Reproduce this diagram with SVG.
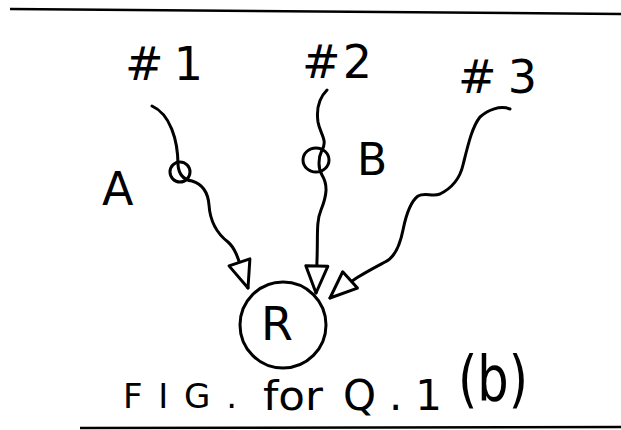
<svg xmlns="http://www.w3.org/2000/svg" width="621" height="430" viewBox="0 0 621 430">
<defs>
<style>
.ln{fill:none;stroke:#000;stroke-width:3;stroke-linecap:round;stroke-linejoin:round}
.rule{fill:none;stroke:#000;stroke-width:2.5}
.t{font-family:"DejaVu Sans","Liberation Sans",sans-serif;fill:#000}
.node{fill:none;stroke:#000;stroke-width:3}
</style>
<marker id="tri" markerUnits="userSpaceOnUse" viewBox="0 0 32 28" markerWidth="32" markerHeight="28" refX="30" refY="14" orient="auto">
<path d="M3,3 L30,14 L3,25 Z" fill="#fff" stroke="#000" stroke-width="3" stroke-linejoin="round"/>
</marker>
</defs>
<rect width="621" height="430" fill="#fff"/>
<path class="rule" d="M10,9 L621,14"/>
<path class="rule" d="M80,428 L621,427"/>

<g id="connectors">
<path class="ln" marker-end="url(#tri)" d="M152,106 C170,114 178,140 178,165 C179,176 185,180 192,181 C202,184 208,192 209,205 C210,220 215,232 228,242 C236,249 238,258 248,288"/>
<path class="ln" marker-end="url(#tri)" d="M327,90 C320,97 316,108 318,122 C320,134 328,140 322,150 C318,158 318,168 322,175 C328,185 327,195 321,210 C316,222 318,235 317,260 L316,293"/>
<path class="ln" marker-end="url(#tri)" d="M510,109 C500,105 488,110 480,117 C472,127 468,145 463,165 C460,178 452,188 440,194 C432,197 425,192 418,196 C410,202 406,215 403,230 C400,245 394,258 385,262 C370,270 350,280 330,298"/>
</g>

<g id="n1">
<text class="t" x="125" y="80" font-size="46" textLength="78" lengthAdjust="spacing">#1</text>
</g>
<g id="n2">
<text class="t" x="302" y="78" font-size="46" textLength="70" lengthAdjust="spacing">#2</text>
</g>
<g id="n3">
<text class="t" x="458" y="93" font-size="46" textLength="79" lengthAdjust="spacing">#3</text>
</g>
<g id="A">
<circle class="node" cx="180" cy="172" r="10"/>
<text class="t" x="102" y="205" font-size="46">A</text>
</g>
<g id="B">
<ellipse class="node" cx="316" cy="160" rx="13" ry="12"/>
<text class="t" x="357" y="175" font-size="44">B</text>
</g>
<g id="R">
<circle class="node" cx="283" cy="325" r="43"/>
<text class="t" x="261" y="340" font-size="46">R</text>
</g>
<g id="caption">
<text class="t" x="123" y="408" font-size="34" textLength="114" lengthAdjust="spacing">FIG.</text>
<text class="t" x="263" y="410" font-size="40" textLength="60" lengthAdjust="spacingAndGlyphs">for</text>
<text class="t" x="343" y="410" font-size="42" textLength="99" lengthAdjust="spacing">Q.1</text>
<text class="t" x="458" y="400" font-size="62" textLength="70" lengthAdjust="spacingAndGlyphs">(b)</text>
</g>
</svg>
